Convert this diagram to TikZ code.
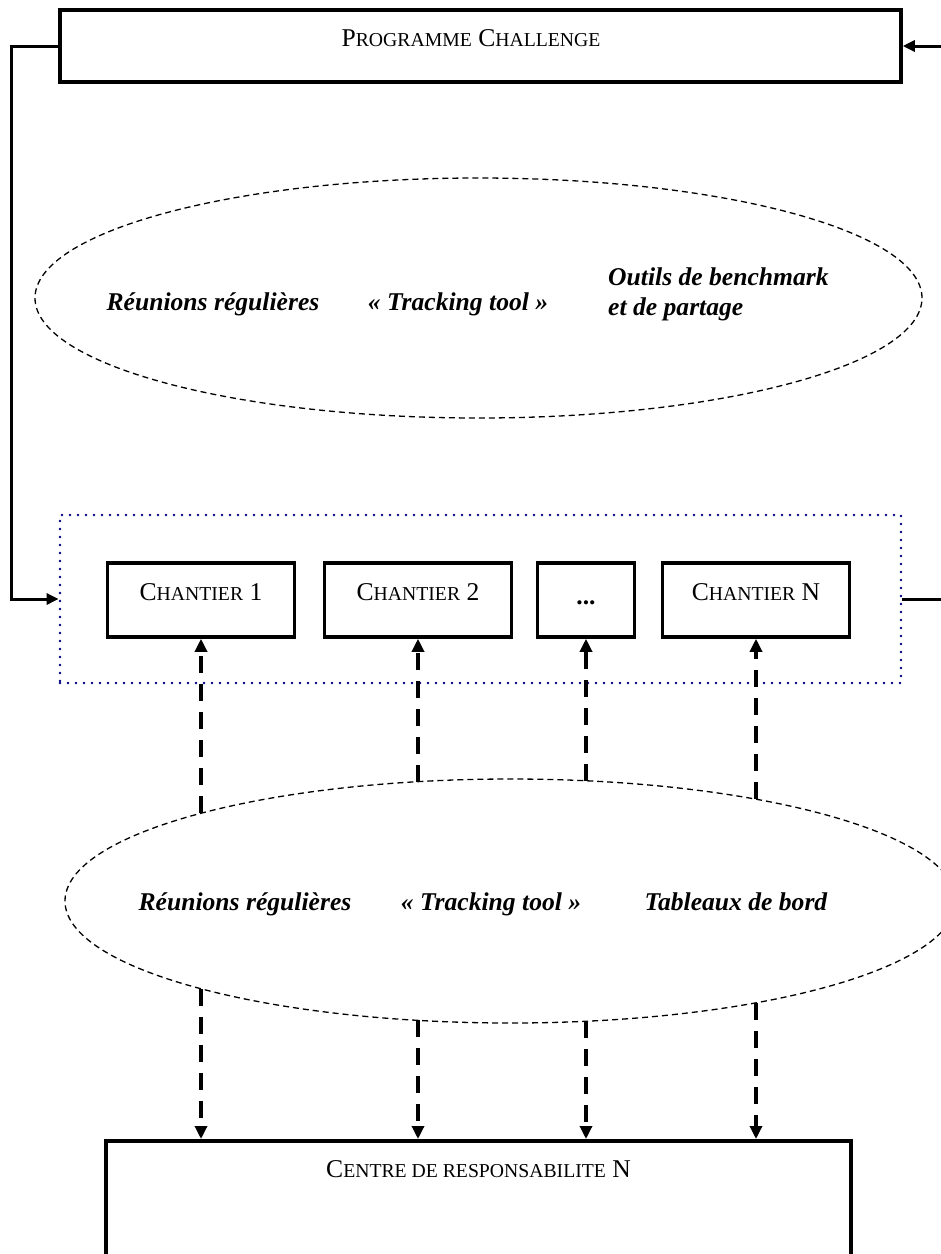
\documentclass[tikz,border=0pt]{standalone}
\usepackage{fontspec}
\setmainfont{Liberation Serif}
\usetikzlibrary{arrows.meta,shapes.geometric}
\definecolor{dotblue}{RGB}{0,0,128}
% small capitals faked with a reduced size (the font has no smcp feature)
\newcommand\scp[1]{{\fontsize{19.7}{24}\selectfont #1}}

\begin{document}
\begin{tikzpicture}[x=1pt,y=-1pt,
  box/.style={draw, line width=3.5pt, inner sep=0pt},
  frame/.style={draw=dotblue, line width=2.8pt, dash pattern=on 0pt off 8pt, line cap=round, inner sep=0pt},
  oval/.style={draw, ellipse, line width=1.3pt, dash pattern=on 6pt off 4pt, inner sep=0pt},
  conn/.style={line width=3pt},
  tip/.style={-{Triangle[length=12pt,width=11pt]}},
  flow/.style={line width=3.2pt, dash pattern=on 17pt off 11pt, -{Triangle[length=13pt,width=12pt]}},
  lbl/.style={font=\fontsize{25.6}{30}\selectfont, inner sep=0pt, anchor=base},
  tool/.style={font=\fontsize{25.6}{30}\selectfont\bfseries\itshape, inner sep=0pt, anchor=base, align=left},
]
\useasboundingbox (0,0) rectangle (941,1254);
\clip (0,0) rectangle (941,1254);

% programme box
\node[box, minimum width=841pt, minimum height=72pt] (prog) at (480.5,46) {};
\node[lbl] (progtxt) at (471,46) {P\scp{ROGRAMME} C\scp{HALLENGE}};

% upper oval: programme-level tools
\node[oval, minimum width=887pt, minimum height=240pt] (e1) at (478.5,298) {};
\node[tool] (e1a) at (213,310) {Réunions régulières};
\node[tool] (e1b) at (458,310) {«~Tracking tool~»};
\node[tool, anchor=west] (e1c) at (608,294) {Outils de benchmark\\et de partage};

% group of work streams
\node[frame, minimum width=841pt, minimum height=168pt] (grp) at (480.5,599) {};
\node[box, minimum width=187pt, minimum height=74pt] (c1) at (201,600) {};
\node[box, minimum width=187pt, minimum height=74pt] (c2) at (418,600) {};
\node[box, minimum width=97pt, minimum height=74pt] (c3) at (586,600) {};
\node[box, minimum width=187pt, minimum height=74pt] (c4) at (756,600) {};
\node[lbl] (c1t) at (201,600) {C\scp{HANTIER} 1};
\node[lbl] (c2t) at (418,600) {C\scp{HANTIER} 2};
\node[lbl, font=\fontsize{25.6}{30}\selectfont\bfseries] (c3t) at (586,604) {...};
\node[lbl] (c4t) at (756,600) {C\scp{HANTIER} N};

% lower oval: steering tools
\node[oval, minimum width=891pt, minimum height=244pt] (e2) at (510.5,901) {};
\node[tool] (e2a) at (245,910) {Réunions régulières};
\node[tool] (e2b) at (491,910) {«~Tracking tool~»};
\node[tool] (e2c) at (736,910) {Tableaux de bord};

% responsibility centre
\node[box, minimum width=745pt, minimum height=240pt, anchor=north] (crn) at (478.5,1139) {};
\node[lbl] (crnt) at (478.5,1177) {C\scp{ENTRE DE RESPONSABILITE} N};

% programme loop
\draw[conn, tip] (prog.west) -- ++(-47,0) |- (grp.west);
\coordinate (rin) at (941,46);
\coordinate (rout) at (941,599);
\draw[conn, tip] (rin) -- (prog.east);
\draw[conn] (grp.east) -- (rout);

% ends of the dashed links on the lower oval
\coordinate (u1) at (201,813);
\coordinate (u2) at (418,782);
\coordinate (u3) at (586,781);
\coordinate (u4) at (756,799);
\coordinate (d1) at (201,989);
\coordinate (d2) at (418,1020);
\coordinate (d3) at (586,1021);
\coordinate (d4) at (756,1003);

\draw[flow] (u1) -- (c1.south);
\draw[flow] (u2) -- (c2.south);
\draw[flow] (u3) -- (c3.south);
\draw[flow] (u4) -- (c4.south);
\draw[flow] (d1) -- (d1 |- crn.north);
\draw[flow] (d2) -- (d2 |- crn.north);
\draw[flow] (d3) -- (d3 |- crn.north);
\draw[flow] (d4) -- (d4 |- crn.north);
\end{tikzpicture}
\end{document}
